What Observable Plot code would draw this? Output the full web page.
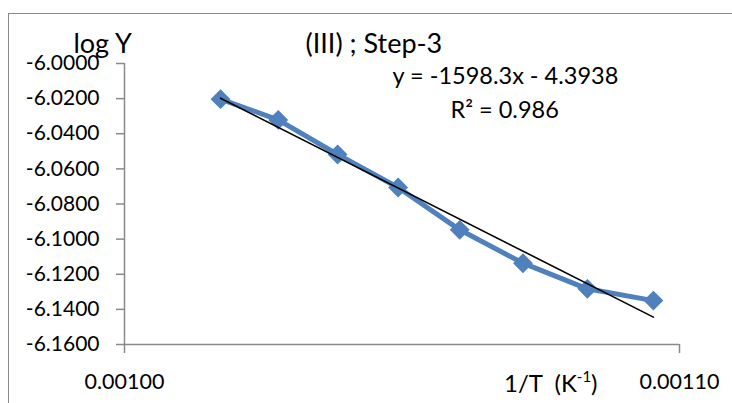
<!DOCTYPE html>
<html><head><meta charset="utf-8">
<script src="https://cdn.jsdelivr.net/npm/d3@7"></script>
<script src="https://cdn.jsdelivr.net/npm/@observablehq/plot@0.6"></script>
<style>
html,body{margin:0;padding:0;background:#fff;}
#wrap{position:relative;width:732px;height:403px;overflow:hidden;}
#frame{position:absolute;left:8px;top:13px;width:740px;height:400px;border-left:1.5px solid #8a8a8a;border-top:1.5px solid #8a8a8a;pointer-events:none;}
</style></head>
<body><div id="wrap"><div id="frame"></div></div>
<script>
const invT = [0.0010173, 0.0010277, 0.0010384, 0.0010493, 0.0010604, 0.0010718, 0.0010834, 0.0010953];
const logY = [-6.0203, -6.0321, -6.0518, -6.0706, -6.0947, -6.1137, -6.1283, -6.1350];
const yTicks = [-6.16, -6.14, -6.12, -6.10, -6.08, -6.06, -6.04, -6.02, -6.00];
const xTicks = [0.00100, 0.00110];
const slope = -1598.3, intercept = -4.3938;
const title = "(III) ; Step-3";
const yLabel = "log Y";
const eqText = "y = -1598.3x - 4.3938";
const r2Text = "R² = 0.986";

const pts = invT.map((x, i) => ({x, y: logY[i]}));
const xs = [invT[0], invT[invT.length - 1]];
const trend = xs.map(x => ({x, y: slope * x + intercept}));

const font = "Lato, 'Open Sans', sans-serif";
const blue = "#4F81BD";

const chart = Plot.plot({
  width: 732, height: 403,
  marginLeft: 124, marginRight: 53, marginTop: 63, marginBottom: 59,
  style: {fontFamily: font, fontSize: "21px", color: "#000", background: "transparent", overflow: "visible"},
  x: {domain: [0.00100, 0.00110]},
  y: {domain: [-6.16, -6.00]},
  marks: [
    Plot.ruleX([0.00100], {stroke: "#8a8a8a", strokeWidth: 1.5}),
    Plot.ruleY([-6.16], {stroke: "#8a8a8a", strokeWidth: 1.5}),
    Plot.axisY(yTicks, {tickFormat: d => d.toFixed(4), tickSize: 8, tickPadding: 17, stroke: "#8a8a8a", strokeWidth: 1.5, fill: "#000", fontSize: 21, label: null}),
    Plot.axisX(xTicks, {tickFormat: d => d.toFixed(5), tickSize: 9, tickPadding: 20, stroke: "#8a8a8a", strokeWidth: 1.5, fill: "#000", fontSize: 21.5, label: null}),
    Plot.line(pts, {x: "x", y: "y", stroke: blue, strokeWidth: 5}),
    Plot.dot(pts, {x: "x", y: "y", symbol: "diamond2", r: 8, fill: blue, stroke: blue}),
    Plot.line(trend, {x: "x", y: "y", stroke: "#000", strokeWidth: 1.6}),
    Plot.text([yLabel], {frameAnchor: "top-left", dx: -51, dy: -11, lineAnchor: "bottom", text: d => d, fontSize: 27, textAnchor: "start"}),
    Plot.text([title], {frameAnchor: "top-left", dx: 181, dy: -11, lineAnchor: "bottom", text: d => d, fontSize: 27, textAnchor: "start"}),
    Plot.text([eqText], {frameAnchor: "top-left", dx: 268, dy: 20, lineAnchor: "bottom", text: d => d, fontSize: 23.5, textAnchor: "start"}),
    Plot.text([r2Text], {frameAnchor: "top-left", dx: 326, dy: 54, lineAnchor: "bottom", text: d => d, fontSize: 23.5, textAnchor: "start"})
  ]
});
document.getElementById("wrap").prepend(chart);

// x-axis label with superscript, as real text
const svg = d3.select(chart);
const lab = svg.append("text")
  .attr("x", 504).attr("y", 392)
  .attr("text-anchor", "start")
  .attr("font-family", font).attr("font-size", 24).attr("fill", "#000");
lab.append("tspan").text("1/T  (K");
lab.append("tspan").attr("font-size", 15).attr("dy", -10).text("-1");
lab.append("tspan").attr("dy", 10).text(")");
</script></body></html>
